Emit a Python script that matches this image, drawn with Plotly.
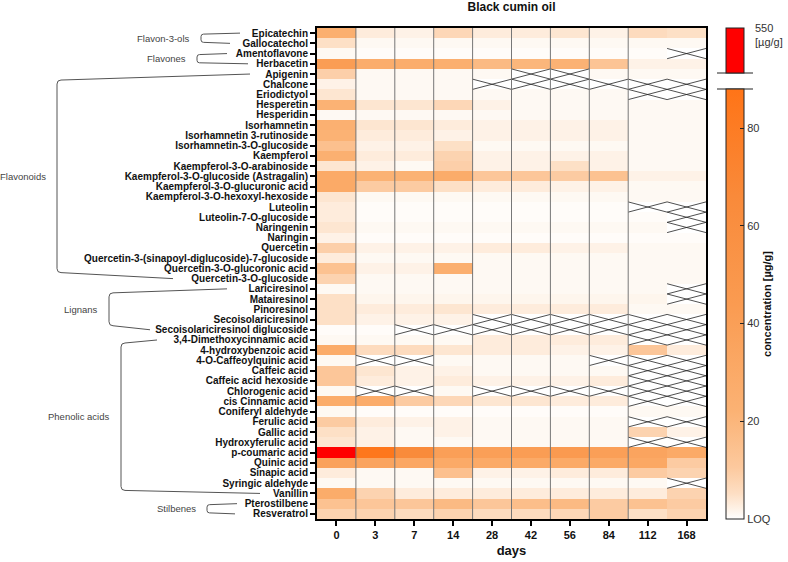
import plotly.graph_objects as go

# Sampling days (columns) and compounds (rows, top to bottom)
days = ["0", "3", "7", "14", "28", "42", "56", "84", "112", "168"]

compounds = [
    "Epicatechin", "Gallocatechol", "Amentoflavone", "Herbacetin", "Apigenin",
    "Chalcone", "Eriodictyol", "Hesperetin", "Hesperidin", "Isorhamnetin",
    "Isorhamnetin 3-rutinoside", "Isorhamnetin-3-O-glucoside", "Kaempferol",
    "Kaempferol-3-O-arabinoside", "Kaempferol-3-O-glucoside (Astragalin)",
    "Kaempferol-3-O-glucuronic acid", "Kaempferol-3-O-hexoxyl-hexoside",
    "Luteolin", "Luteolin-7-O-glucoside", "Naringenin", "Naringin", "Quercetin",
    "Quercetin-3-(sinapoyl-diglucoside)-7-glucoside",
    "Quercetin-3-O-glucoronic acid", "Quercetin-3-O-glucoside",
    "Lariciresinol", "Matairesinol", "Pinoresinol", "Secoisolariciresinol",
    "Secoisolariciresinol diglucoside", "3,4-Dimethoxycinnamic acid",
    "4-hydroxybenzoic acid", "4-O-Caffeoylquinic acid", "Caffeic acid",
    "Caffeic acid hexoside", "Chlorogenic acid", "cis Cinnamic acid",
    "Coniferyl aldehyde", "Ferulic acid", "Gallic acid", "Hydroxyferulic acid",
    "p-coumaric acid", "Quinic acid", "Sinapic acid", "Syringic aldehyde",
    "Vanillin", "Pterostilbene", "Resveratrol",
]

# concentration [ug/g], 0 = LOQ, None = not determined (crossed cell)
N = None
conc = [
    [25, 3, 2, 7, 3, 3, 4, 2, 6, 5],
    [5, 1, 1, 1, 1, 1, 1, 1, 1, 1],
    [1, 0.5, 0.5, 0.5, 0.5, 0.5, 0.5, 0.5, 0.5, N],
    [42, 27, 27, 25, 18, 20, 22, 13, 2, 2],
    [9, 1, 1, 1, 1, N, N, 1, 1, 1],
    [2, 1, 1, 1, N, N, N, N, N, N],
    [4, 1, 1, 1, 1, 1, 1, 1, N, N],
    [22, 4, 4, 7, 2, 1, 1, 1, 1, 1],
    [1, 1, 1, 1, 1, 1, 1, 1, 1, 1],
    [24, 4, 4, 3, 2, 2, 2, 2, 1, 1],
    [22, 3, 3, 2, 2, 2, 2, 2, 1, 1],
    [15, 2, 2, 5, 1, 1, 1, 1, 1, 1],
    [24, 3, 3, 8, 2, 2, 2, 2, 1, 1],
    [4, 2, 1, 9, 2, 2, 5, 2, 1, 1],
    [30, 22, 22, 28, 12, 12, 10, 14, 2, 2],
    [30, 10, 10, 5, 3, 3, 2, 2, 1, 1],
    [4, 1, 1, 1, 1, 1, 1, 1, 1, 1],
    [3, 0.5, 0.5, 0.5, 0.5, 0.5, 0.5, 0.5, N, N],
    [3, 0.5, 0.5, 0.5, 0.5, 0.5, 0.5, 0.5, 0.5, N],
    [4, 1, 1, 1, 1, 1, 1, 1, 1, N],
    [2, 0.5, 0.5, 0.5, 0.5, 0.5, 0.5, 0.5, 0.5, 0.5],
    [9, 2, 2, 2, 3, 3, 2, 2, 1, 1],
    [3, 1, 1, 1, 1, 1, 1, 1, 1, 1],
    [14, 2, 2, 25, 1, 1, 1, 1, 1, 1],
    [8, 1, 1, 1, 1, 1, 1, 1, 1, 1],
    [1, 1, 1, 1, 1, 1, 1, 1, 1, N],
    [5, 1.5, 1.5, 1.5, 1.5, 1.5, 1.5, 1.5, 1.5, N],
    [5, 3, 3, 4, 3, 3, 3, 3, 1, 1],
    [5, 2, 2, 2, N, N, N, N, N, N],
    [0.5, 0.5, N, N, N, N, N, N, N, N],
    [1, 1, 1, 1, 3, 3, 3, 3, N, N],
    [28, 6, 6, 4, 3, 3, 2, 2, 12, 3],
    [1, N, N, 1, 1, 1, 1, N, N, N],
    [12, 4, 2, 2, 1, 1, 1, 1, N, N],
    [12, 3, 2, 3, 2, 2, 2, 3, N, N],
    [1, N, N, 1, N, N, N, N, N, N],
    [28, 28, 10, 7, 4, 4, 3, 3, N, N],
    [1, 0.5, 0.5, 0.5, 0.5, 0.5, 0.5, 0.5, 1, 1],
    [10, 3, 2, 2, 1, 1, 1, 1, N, N],
    [5, 2, 1, 2, 1, 1, 1, 1, 8, 2],
    [4, 2, 1, 1, 1, 1, 1, 1, N, N],
    [550, 85, 65, 40, 40, 42, 45, 40, 35, 30],
    [38, 35, 33, 30, 30, 30, 30, 30, 32, 10],
    [3, 1, 1, 15, 2, 2, 3, 3, 10, 8],
    [1, 1, 1, 1, 1, 1, 1, 1, 1, N],
    [28, 8, 3, 3, 3, 3, 3, 3, 3, 8],
    [14, 12, 12, 18, 12, 16, 18, 10, 14, 10],
    [8, 8, 6, 8, 6, 6, 7, 10, 5, 8],
]

# compound classes: label, first row, last row
group_names = ["Flavon-3-ols", "Flavones", "Flavonoids", "Lignans", "Phenolic acids", "Stilbenes"]
group_first = [0, 2, 4, 25, 30, 46]
group_last = [1, 3, 24, 29, 45, 47]

# colour scale limits
SCALE_MAX = 88
BREAK_MAX = 550

# --- geometry (pixels in the 788x562 page) ---
W, H = 788, 562
PL, PR, PT, PB = 317, 706, 28, 519
n_rows = len(compounds)
FONT = "Arial, Liberation Sans, sans-serif"


def fx(px):
    return (px - PL) / (PR - PL)


def fy(py):
    return (PB - py) / (PB - PT)


def row_px(i):
    return PT + (i + 0.5) * (PB - PT) / n_rows


orange_scale = [
    [0.0, "#FFFFFF"], [0.02, "#FEF4EA"], [0.06, "#FDDEC3"], [0.12, "#FCC99E"],
    [0.25, "#FBB274"], [0.5, "#FA9B51"], [0.75, "#F98A3A"], [1.0, "#FF7417"],
]

fig = go.Figure()

fig.add_trace(go.Heatmap(
    z=conc, x=days, y=compounds,
    zmin=0, zmax=SCALE_MAX, colorscale=orange_scale,
    hoverongaps=False,
    colorbar=dict(
        x=fx(726), xanchor="left", xpad=0, ypad=0,
        y=0, yanchor="bottom", lenmode="pixels", len=PB - 89,
        thickness=18, outlinecolor="#222", outlinewidth=1,
        ticks="inside", ticklen=4, tickcolor="#222",
        tickvals=[0, 20, 40, 60, 80], ticktext=["LOQ", "20", "40", "60", "80"],
        tickfont=dict(family=FONT, size=11, color="#333333"),
        title=dict(text="concentration [µg/g]", side="right",
                   font=dict(family=FONT, size=11, color="#111111", weight="bold")),
    ),
))

# values above the break are shown in red
high = [[v if (v is not None and v > SCALE_MAX) else None for v in row] for row in conc]
fig.add_trace(go.Heatmap(
    z=high, x=days, y=compounds,
    zmin=SCALE_MAX, zmax=BREAK_MAX,
    colorscale=[[0, "#FF0000"], [1, "#FF0000"]],
    hoverongaps=False,
    colorbar=dict(
        x=fx(726), xanchor="left", xpad=0, ypad=0,
        y=1, yanchor="top", lenmode="pixels", len=73 - PT,
        thickness=18, outlinecolor="#222", outlinewidth=1,
        ticks="", showticklabels=False,
    ),
))

# crosses for cells that were not determined
cx, cy = [], []
for r, row in enumerate(conc):
    for c, v in enumerate(row):
        if v is None:
            cx += [c - 0.5, c + 0.5, None, c - 0.5, c + 0.5, None]
            cy += [r - 0.5, r + 0.5, None, r + 0.5, r - 0.5, None]
fig.add_trace(go.Scatter(
    x=cx, y=cy, mode="lines", xaxis="x2", yaxis="y2",
    line=dict(color="#222", width=0.8), hoverinfo="skip", showlegend=False,
))

shapes = []
# column separators (no line between the last two)
for c in range(len(days) - 2):
    shapes.append(dict(type="line", xref="x2", yref="paper", x0=c + 0.5, x1=c + 0.5,
                       y0=0, y1=1, line=dict(color="#777", width=1)))

# break marks on colour bar
for py in (73, 89):
    shapes.append(dict(type="line", xref="paper", yref="paper", x0=fx(717), x1=fx(753),
                       y0=fy(py), y1=fy(py), line=dict(color="#222", width=1)))

# brackets for compound classes: vertical x, top end x, bottom end x, corner offset
bracket_x = [(201, 240, 230, 1), (197, 227, 248, 1), (57, 250, 173, 6),
             (109, 227, 150, 4), (121, 157, 260, 3), (207, 237, 235, 1)]
annotations = []
for name, i0, i1, (xv, xt, xb, d) in zip(group_names, group_first, group_last, bracket_x):
    yt, yb = row_px(i0), row_px(i1)
    r = 4 if d > 2 else 2.5
    pts = [
        f"M {fx(xt)},{fy(yt)}",
        f"L {fx(xv + r)},{fy(yt + d)}",
        f"Q {fx(xv)},{fy(yt + d)} {fx(xv)},{fy(yt + d + r)}",
        f"L {fx(xv)},{fy(yb - d - r)}",
        f"Q {fx(xv)},{fy(yb - d)} {fx(xv + r)},{fy(yb - d)}",
        f"L {fx(xb)},{fy(yb)}",
    ]
    shapes.append(dict(type="path", xref="paper", yref="paper", path=" ".join(pts),
                       line=dict(color="#555", width=1)))
    annotations.append(dict(
        x=fx(xv - 9), y=fy((yt + yb) / 2), xref="paper", yref="paper",
        text=name, showarrow=False, xanchor="right", yanchor="middle",
        font=dict(family=FONT, size=9.5, color="#444444"),
    ))

annotations.append(dict(
    x=fx(753), y=fy(20), xref="paper", yref="paper", text="550<br>[µg/g]",
    showarrow=False, xanchor="left", yanchor="top", align="left",
    font=dict(family=FONT, size=11, color="#333333"),
))

fig.update_layout(
    template="none",
    width=W, height=H,
    margin=dict(l=PL, r=W - PR, t=PT, b=H - PB, pad=0),
    paper_bgcolor="white", plot_bgcolor="white",
    title=dict(text="Black cumin oil", x=0.5, xref="paper", xanchor="center",
               y=1 - 3 / H, yanchor="top",
               font=dict(family=FONT, size=12, color="#111111", weight="bold")),
    xaxis=dict(type="category", showline=True, mirror=True, linecolor="black", linewidth=2,
               ticks="outside", ticklen=5, tickwidth=2, tickcolor="black", showgrid=False,
               zeroline=False,
               tickfont=dict(family=FONT, size=11, color="#111111", weight="bold"),
               title=dict(text="days", standoff=6,
                          font=dict(family=FONT, size=13, color="#111111", weight="bold"))),
    yaxis=dict(type="category", autorange="reversed", showline=True, mirror=True,
               linecolor="black", linewidth=2, ticks="outside", ticklen=5, tickwidth=2,
               tickcolor="black", showgrid=False, zeroline=False,
               tickmode="array", tickvals=compounds, ticktext=compounds,
               tickfont=dict(family=FONT, size=10, color="#111111", weight="bold")),
    xaxis2=dict(overlaying="x", range=[-0.5, len(days) - 0.5], visible=False),
    yaxis2=dict(overlaying="y", range=[n_rows - 0.5, -0.5], visible=False),
    shapes=shapes, annotations=annotations, showlegend=False,
)

fig.write_html("out.html", config={"displayModeBar": False},
               post_script="document.body.style.margin='0';")
